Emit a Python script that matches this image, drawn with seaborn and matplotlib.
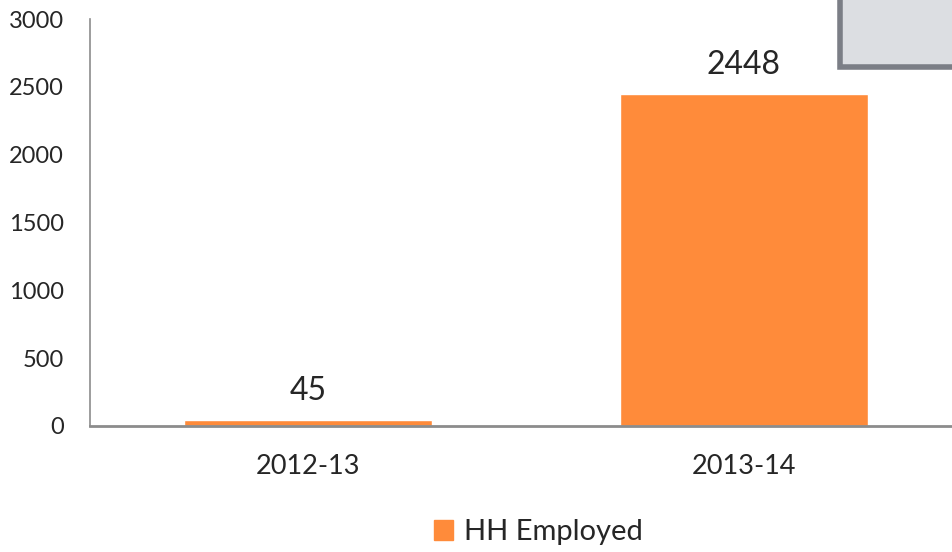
import matplotlib
matplotlib.use('Agg')
import matplotlib.pyplot as plt
import seaborn as sns
import pandas as pd
from matplotlib.patches import Patch, Rectangle

# data
years = ['2012-13', '2013-14']
hh_employed = [45, 2448]
y_ticks = [0, 500, 1000, 1500, 2000, 2500, 3000]

df = pd.DataFrame({'year': years, 'hh': hh_employed})

sns.set_style('white')
plt.rcParams['font.family'] = ['Lato', 'DejaVu Sans']

fig = plt.figure(figsize=(9.53, 5.52), dpi=100)
ax = fig.add_axes([90 / 953, 1 - 426 / 552, 872 / 953, 407 / 552])

orange = '#FF8B3A'
sns.barplot(data=df, x='year', y='hh', color=orange, width=0.57, ax=ax, saturation=1)

ax.set_ylim(0, 3000)
ax.set_xlim(-0.5, 1.5)
ax.set_yticks(y_ticks)
ax.set_xlabel('')
ax.set_ylabel('')
ax.tick_params(axis='y', labelsize=17, length=0, pad=19)
ax.tick_params(axis='x', labelsize=19.5, length=0, pad=20)

for s in ['top', 'right']:
    ax.spines[s].set_visible(False)
ax.spines['left'].set_color('#8c8c8c')
ax.spines['left'].set_linewidth(1.2)
ax.spines['bottom'].set_color('#8c8c8c')
ax.spines['bottom'].set_linewidth(2)

for c in ax.containers:
    ax.bar_label(c, fontsize=23, padding=10)

handles = [Patch(color=orange, label='HH Employed')]
fig.legend(handles=handles, loc='center', bbox_to_anchor=(0.565, 0.036), frameon=False,
           fontsize=21, handlelength=0.65, handleheight=0.65, handletextpad=0.4)

# partially visible text box in the top-right corner
fig.patches.append(Rectangle((840 / 953, 1 - 67 / 552), 0.2, 0.2, transform=fig.transFigure,
                             facecolor='#dcdee2', edgecolor='#7b7e86', linewidth=4, zorder=5))

fig.savefig('out.png', dpi=100)
